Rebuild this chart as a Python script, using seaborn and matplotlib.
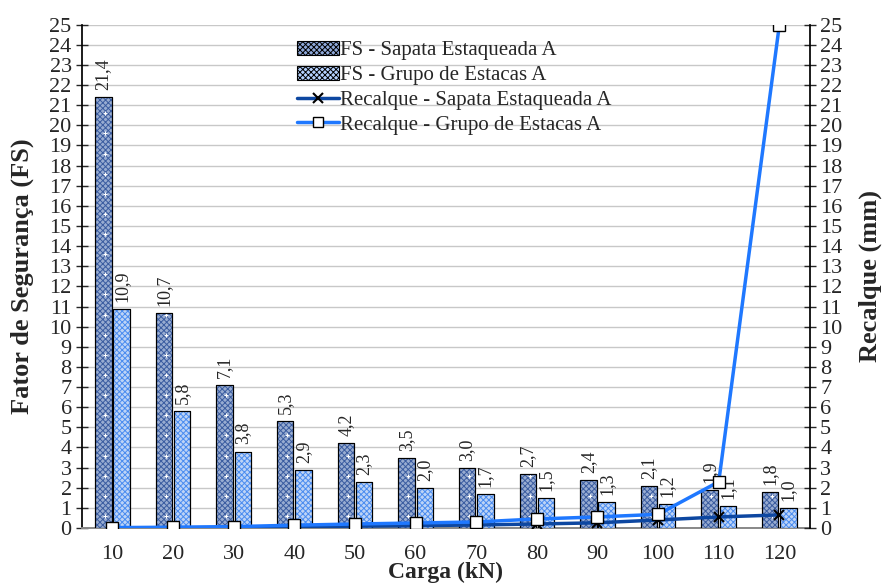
import numpy as np
import pandas as pd
import matplotlib
matplotlib.use("Agg")
import matplotlib.pyplot as plt
import seaborn as sns
from matplotlib.patches import Patch
from matplotlib.lines import Line2D

cargas = ["10", "20", "30", "40", "50", "60", "70", "80", "90", "100", "110", "120"]
fs_sapata = [21.4, 10.7, 7.1, 5.3, 4.2, 3.5, 3.0, 2.7, 2.4, 2.1, 1.9, 1.8]
fs_grupo = [10.9, 5.8, 3.8, 2.9, 2.3, 2.0, 1.7, 1.5, 1.3, 1.2, 1.1, 1.0]
rec_sapata = [0.0, 0.01, 0.03, 0.06, 0.09, 0.12, 0.15, 0.2, 0.26, 0.4, 0.55, 0.65]
rec_grupo = [0.02, 0.04, 0.07, 0.14, 0.2, 0.25, 0.3, 0.45, 0.55, 0.68, 2.3, 25.0]

serie_sap = "FS - Sapata Estaqueada A"
serie_gru = "FS - Grupo de Estacas A"
lin_sap = "Recalque - Sapata Estaqueada A"
lin_gru = "Recalque - Grupo de Estacas A"

sns.set_theme(style="white")
plt.rcParams["font.family"] = ["Liberation Serif", "DejaVu Serif"]
plt.rcParams["hatch.linewidth"] = 0.7

df = pd.DataFrame({
    "Carga": cargas * 2,
    "FS": fs_sapata + fs_grupo,
    "Serie": [serie_sap] * len(cargas) + [serie_gru] * len(cargas),
})

fig = plt.figure(figsize=(8.83, 5.88), dpi=100)
ax = fig.add_axes([0.093, 0.102, 0.824, 0.856])

sap_face, gru_face = "#8fa9da", "#b5d2ff"
sns.barplot(data=df, x="Carga", y="FS", hue="Serie", order=cargas,
            hue_order=[serie_sap, serie_gru], width=0.6, gap=0.1,
            palette=[sap_face, gru_face], ax=ax, legend=False,
            edgecolor="black", linewidth=0.8, zorder=3)

hatch_cols = {serie_sap: "#3a5ca0", serie_gru: "#4a8cf0"}
bars = list(ax.patches)
n = len(cargas)
for i, p in enumerate(bars):
    serie = serie_sap if i < n else serie_gru
    x, w, h = p.get_x(), p.get_width(), p.get_height()
    ax.bar(x + w / 2, h, width=w, facecolor="none", edgecolor=hatch_cols[serie],
           hatch="xxxxxx", linewidth=0, zorder=3.5)
    ax.bar(x + w / 2, h, width=w, facecolor="none", edgecolor="black",
           linewidth=0.8, zorder=3.6)
    if serie == serie_sap:
        ys = np.arange(0.6, h, 1.0)
        ax.scatter(np.full(len(ys), x + w / 2 + 0.03), ys, marker="+", s=12,
                   c="white", linewidths=0.8, zorder=3.55)
    ax.text(x + w / 2, h + 0.35, f"{h:.1f}".replace(".", ","), rotation=90,
            ha="center", va="bottom", fontsize=13, zorder=5)

ax.set_ylim(0, 25)
ax.set_xlim(-0.5, n - 0.5)
ax.set_yticks(range(0, 26))
ax.yaxis.grid(True, color="#c8c8c8", linewidth=1.0, zorder=0)
ax.set_axisbelow(True)
ax.tick_params(axis="y", direction="inout", length=9, width=1, labelsize=16, pad=3, left=True)
ax.tick_params(axis="x", length=0, labelsize=16, pad=12)
for s in ["top", "right"]:
    ax.spines[s].set_visible(False)
ax.spines["left"].set_color("black")
ax.spines["bottom"].set_color("#888888")
ax.spines["bottom"].set_linewidth(1.4)
ax.set_xlabel("Carga (kN)", fontsize=17, fontweight="bold", labelpad=-1)
ax.set_ylabel("Fator de Segurança (FS)", fontsize=19, fontweight="bold", labelpad=11)

ax2 = ax.twinx()
ax2.set_position(ax.get_position())
xs = np.arange(n)
sns.lineplot(x=xs, y=rec_sapata, ax=ax2, color="#0d47a1", linewidth=2.5,
             marker="x", markersize=7, markeredgecolor="black", markeredgewidth=1.5,
             zorder=6)
sns.lineplot(x=xs, y=rec_grupo, ax=ax2, color="#1f78ff", linewidth=2.5,
             marker="s", markersize=8, markerfacecolor="white", markeredgecolor="black",
             markeredgewidth=1.0, zorder=7)
ax2.set_ylim(0, 25)
ax2.set_xlim(-0.5, n - 0.5)
ax2.set_yticks(range(0, 26))
ax2.tick_params(axis="y", direction="inout", length=9, width=1, labelsize=16, pad=3, right=True)
for s in ["top", "left", "bottom"]:
    ax2.spines[s].set_visible(False)
ax2.spines["right"].set_color("black")
ax2.set_ylabel("Recalque (mm)", fontsize=19, fontweight="bold", labelpad=12)
ax2.grid(False)

handles = [
    Patch(facecolor=sap_face, edgecolor="black", hatch="xxxxxx", linewidth=0.8),
    Patch(facecolor=gru_face, edgecolor="black", hatch="xxxxxx", linewidth=0.8),
    Line2D([], [], color="#0d47a1", linewidth=2.5, marker="x", markersize=7,
           markeredgecolor="black", markeredgewidth=1.5),
    Line2D([], [], color="#1f78ff", linewidth=2.5, marker="s", markersize=7,
           markerfacecolor="white", markeredgecolor="black"),
]
leg = ax2.legend(handles, [serie_sap, serie_gru, lin_sap, lin_gru],
                 loc="upper left", bbox_to_anchor=(0.296, 0.968), frameon=False,
                 fontsize=15, handlelength=2.0, handletextpad=0.05,
                 labelspacing=0.25, borderaxespad=0, borderpad=0)

fig.savefig("out.png", dpi=100)
